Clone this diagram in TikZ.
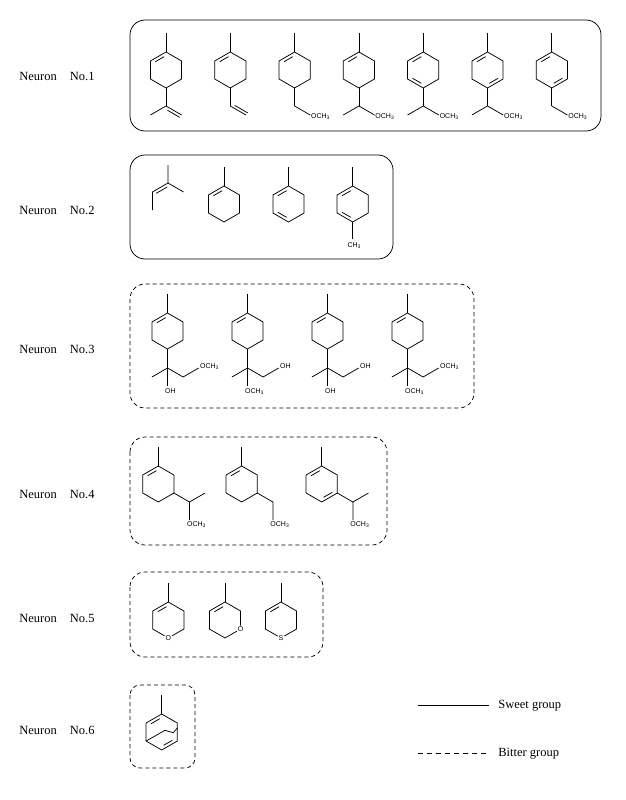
\documentclass[tikz,border=0pt]{standalone}
\usepackage{fontspec}
\setmainfont{Liberation Serif}
\newfontfamily\chemfont{Liberation Sans}
\usepackage{tikz}
\usetikzlibrary{calc}
\usetikzlibrary{positioning}

\tikzset{
  atom/.style={font=\chemfont\fontsize{7}{8}\selectfont, inner sep=0.6pt},
  neuron/.style={font=\fontsize{12.5}{14}\selectfont, inner sep=0pt, anchor=west},
  sweetbox/.style={rounded corners=15pt},
  bitterbox/.style={rounded corners=15pt, dash pattern=on 4pt off 3pt},
}

% ring corners at -90,-30,30,90,150,210 (y runs down the page)
\newcommand{\hexring}{\draw (-90:18) -- (-30:18) -- (30:18) -- (90:18) -- (150:18) -- (210:18) -- cycle;}
\newcommand{\dbond}[2]{\draw ($(#1:14.4)!.15!(#2:14.4)$) -- ($(#1:14.4)!.85!(#2:14.4)$);}
\newcommand{\methyl}{\draw (-90:18) -- (0,-37);}
\newcommand{\och}{OCH\textsubscript{3}}

\begin{document}
\begin{tikzpicture}[x=1pt, y=-1pt, line width=0.75pt]
\useasboundingbox[fill=white] (0,0) rectangle (625,800);

%labels
\foreach \y/\n in {76/1,210/2,349/3,494/4,618/5,730/6} {
  \node[neuron] (neuron\n) at (19,\y) {Neuron\hspace{13pt}No.\n};
}

%groups
\draw[sweetbox] (130,20) rectangle (601,131);
\draw[sweetbox] (130,155) rectangle (393,259);
\draw[bitterbox] (130,284) rectangle (474,408);
\draw[bitterbox] (130,437) rectangle (387,545);
\draw[bitterbox] (130,572) rectangle (323,657);
\draw[bitterbox, rounded corners=10pt] (130,685) rectangle (195,768);

%Neuron No.1
\foreach \i in {0,...,6} {
  \begin{scope}[shift={({166+64.3*\i},70)}]
    \hexring
    \methyl
    \dbond{210}{-90}
    \draw (90:18) -- (0,36);
  \end{scope}
}
\begin{scope}[shift={(166,70)}]
  \draw (-15.6,45) -- (0,36) -- (15.6,45);
  \draw (1.6,40.4) -- (13.8,47.4);
\end{scope}
\begin{scope}[shift={(230.3,70)}]
  \draw (0,36) -- (15.6,45);
  \draw (4.4,35.4) -- (17.4,42.9);
\end{scope}
\foreach \x/\side [count=\k] in {294.6/0, 358.9/1, 423.2/1, 487.5/1, 551.8/0} {
  \begin{scope}[shift={(\x,70)}]
    \draw (0,36) -- (15.6,45);
    \ifnum\side=1 \draw (0,36) -- (-15.6,45); \fi
    \node[atom, anchor=west] (ether1\k) at (15.6,46.5) {\och};
  \end{scope}
}
\begin{scope}[shift={(423.2,70)}]
  \dbond{150}{90}
\end{scope}
\foreach \x in {487.5, 551.8} {
  \begin{scope}[shift={(\x,70)}]
    \dbond{90}{30}
  \end{scope}
}

%Neuron No.2
\begin{scope}[shift={(168,183)}]
  \draw (0,-18) -- (0,0) -- (15.6,9);
  \draw (0,0) -- (-15.6,9) -- (-15.6,27);
  \draw (-11.8,10.3) -- (-0.8,4);
\end{scope}
\foreach \x/\n in {224/1, 288.5/2, 352.7/3} {
  \begin{scope}[shift={(\x,204)}]
    \hexring
    \methyl
    \dbond{210}{-90}
    \ifnum\n>1 \dbond{150}{90} \fi
  \end{scope}
}
\begin{scope}[shift={(352.7,204)}]
  \draw (90:18) -- (0,35);
  \node[atom, anchor=north] (tail2) at (1.5,38) {CH\textsubscript{3}};
\end{scope}

%Neuron No.3
\foreach \x/\r/\b [count=\k] in {167.5/{\och}/OH, 247.5/OH/{\och}, 327.5/OH/OH, 407.5/{\och}/{\och}} {
  \begin{scope}[shift={(\x,331)}]
    \hexring
    \methyl
    \dbond{210}{-90}
    \draw (90:18) -- (0,55);
    \draw (-15.6,46) -- (0,37) -- (15.6,46) -- (31.2,37);
    \node[atom, anchor=west] (side3\k) at (31.6,35.5) {\r};
    \node[atom, anchor=north west] (foot3\k) at (-3.4,56.5) {\b};
  \end{scope}
}

%Neuron No.4
\foreach \x/\n in {158.3/1, 241.7/2, 321.7/3} {
  \begin{scope}[shift={(\x,484)}]
    \hexring
    \methyl
    \dbond{210}{-90}
    \ifnum\n=3 \dbond{90}{30} \fi
    \ifnum\n=2 \else \draw (31.2,18) -- (46.8,9); \fi
    \draw (30:18) -- (31.2,18) -- (31.2,36);
    \node[atom, anchor=north west] (foot4\n) at (27.8,37) {\och};
  \end{scope}
}

%Neuron No.5
\begin{scope}[shift={(168.3,620)}]
  \node[atom] (ox1) at (90:18) {O};
  \draw (ox1) -- (30:18) -- (-30:18) -- (-90:18) -- (210:18) -- (150:18) -- (ox1);
  \methyl
  \dbond{210}{-90}
\end{scope}
\begin{scope}[shift={(225,620)}]
  \node[atom] (ox2) at (30:18) {O};
  \draw (ox2) -- (90:18) -- (150:18) -- (210:18) -- (-90:18) -- (-30:18) -- (ox2);
  \methyl
  \dbond{210}{-90}
\end{scope}
\begin{scope}[shift={(281,620)}]
  \node[atom] (sul) at (90:18) {S};
  \draw (sul) -- (30:18) -- (-30:18) -- (-90:18) -- (210:18) -- (150:18) -- (sul);
  \methyl
  \dbond{210}{-90}
\end{scope}

%Neuron No.6
\begin{scope}[shift={(161.7,732)}]
  \hexring
  \methyl
  \dbond{210}{-90}
  \dbond{90}{30}
  \draw (150:18) -- (3.3,-1.7) -- (11.6,0.7) -- (15.6,-4);
\end{scope}

%legend
\node[neuron] (sweet) at (498,706) {Sweet group};
\node[neuron] (bitter) at (498,754) {Bitter group};
\draw (sweet.west) ++(-80,-1) -- ++(71,0);
\draw[dash pattern=on 5pt off 4pt] (bitter.west) ++(-80,-1) -- ++(71,0);
\end{tikzpicture}
\end{document}
